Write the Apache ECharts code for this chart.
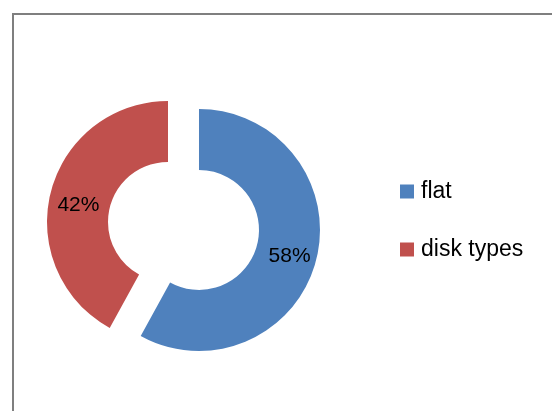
<!DOCTYPE html>
<html>
<head>
<meta charset="utf-8">
<script src="https://cdn.jsdelivr.net/npm/echarts@6/dist/echarts.min.js"></script>
<style>
  html, body { margin: 0; padding: 0; background: #fff; }
  #chart { width: 552px; height: 411px; }
</style>
</head>
<body>
<div id="chart"></div>
<script>
var categories = ['flat', 'disk types'];
var shares = [58, 42];
var colors = ['#4F81BD', '#C0504D'];

var chart = echarts.init(document.getElementById('chart'));

var data = categories.map(function (name, i) {
  return {
    name: name,
    value: shares[i],
    selected: i === 0, // only the blue slice is pulled out
    itemStyle: { color: colors[i] }
  };
});

var option = {
  backgroundColor: '#fff',
  animation: false,
  graphic: [{
    type: 'rect',
    shape: { x: 13, y: 14, width: 700, height: 600 },
    style: { fill: 'none', stroke: '#7f7f7f', lineWidth: 2 },
    silent: true
  }],
  legend: {
    orient: 'vertical',
    left: 400,
    top: 180,
    padding: 0,
    itemWidth: 14,
    itemHeight: 14,
    itemGap: 35,
    icon: 'rect',
    textStyle: {
      fontFamily: 'Liberation Sans',
      fontSize: 23,
      lineHeight: 22,
      color: '#000',
      padding: [0, 0, 0, 2]
    },
    data: categories
  },
  series: [{
    type: 'pie',
    center: [168, 222],
    radius: [60, 121],
    startAngle: 90,
    clockwise: true,
    selectedMode: 'single',
    selectedOffset: 32,
    emphasis: { disabled: true },
    label: {
      show: true,
      position: 'inside',
      formatter: '{d}%',
      fontFamily: 'Liberation Sans',
      fontSize: 21,
      color: '#000'
    },
    labelLine: { show: false },
    labelLayout: function (params) {
      return params.dataIndex === 1 ? { dx: 1, dy: 6 } : { dy: 3 };
    },
    data: data
  }]
};

chart.setOption(option);
</script>
</body>
</html>
